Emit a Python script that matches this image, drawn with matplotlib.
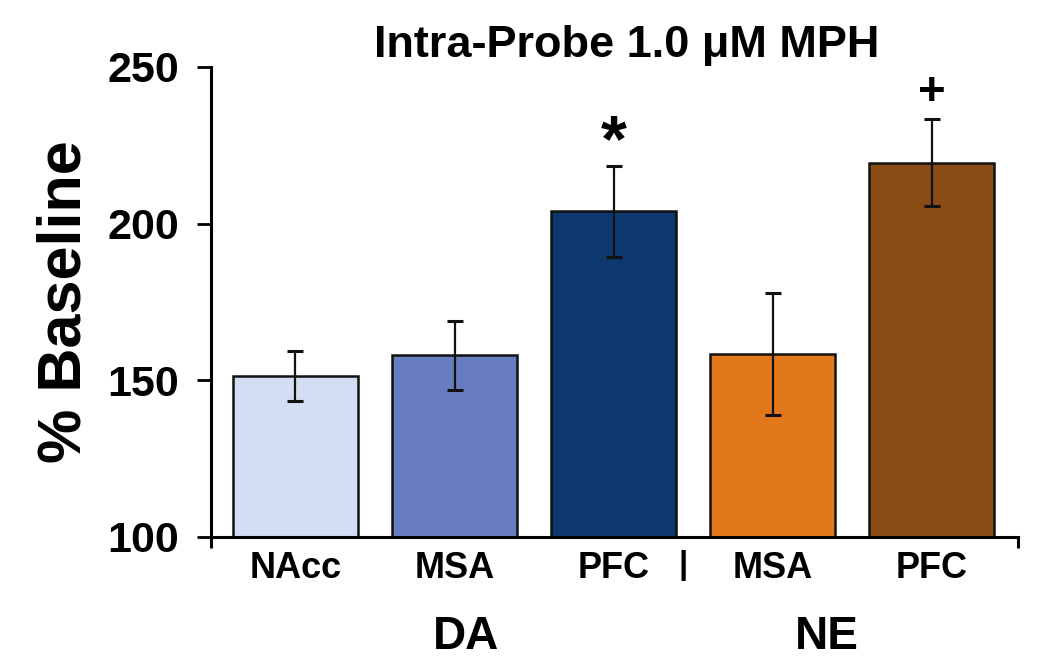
import matplotlib

matplotlib.use("Agg")

import matplotlib.pyplot as plt
import matplotlib.transforms as mtransforms

# data
regions = ["NAcc", "MSA", "PFC", "MSA", "PFC"]
values = [151.5, 158.0, 204.0, 158.5, 219.5]
errors = [8.0, 11.0, 14.5, 19.5, 14.0]
colors = ["#d3ddf3", "#687cc0", "#0c386d", "#e3771b", "#8b4b14"]
marks = ["", "", "*", "", "+"]
groups = ["DA", "NE"]
group_x = [1.07, 3.34]
y_ticks = [100, 150, 200, 250]

plt.rcParams["font.family"] = ["Liberation Sans", "DejaVu Sans"]
plt.rcParams["font.weight"] = "bold"

fig = plt.figure(figsize=(10.5, 6.72), dpi=100)
ax = fig.add_axes([0.201, 0.2009, 0.7686, 0.6994])

x = list(range(len(values)))
ax.bar(x, [v - 100 for v in values], bottom=100, width=0.786, color=colors,
       edgecolor="#111111", linewidth=1.8, zorder=2)
ax.errorbar(x, values, yerr=errors, fmt="none", ecolor="#111111",
            elinewidth=1.6, capsize=5.5, capthick=2.2, zorder=3)

# glyph size / offset above the error cap (the asterisk sits high in the font)
mark_style = {"*": (48, 1.6), "+": (34, 4.4)}
for xi, v, e, m in zip(x, values, errors, marks):
    if m:
        size, off = mark_style[m]
        ax.text(xi, v + e + off, m, ha="center", va="baseline",
                fontsize=size, fontweight="bold", color="black")

ax.set_xlim(-0.531, 4.544)
ax.set_ylim(100, 250)

ax.set_yticks(y_ticks)
ax.tick_params(axis="y", length=10, width=2, pad=13, labelsize=31)
ax.set_xticks(x)
ax.set_xticklabels(regions, fontsize=26, fontweight="bold")
ax.tick_params(axis="x", length=0, pad=10)
ax.set_xticks([-0.531, 4.544], minor=True)
ax.tick_params(axis="x", which="minor", length=8, width=2.2)

for s in ["top", "right"]:
    ax.spines[s].set_visible(False)
for s in ["left", "bottom"]:
    ax.spines[s].set_linewidth(2.2)

ax.set_ylabel("% Baseline", fontsize=44, fontweight="bold", labelpad=10)
fig.text(627 / 1050, 1 - 45 / 672, "Intra-Probe 1.0 μM MPH", ha="center",
         va="center", fontsize=32.5, fontweight="bold")

trans = mtransforms.blended_transform_factory(ax.transData, ax.transAxes)
ax.text(2.44, -0.06, "|", transform=trans, ha="center", va="center",
        fontsize=24, fontweight="bold")
for gx, g in zip(group_x, groups):
    ax.text(gx, -0.213, g, transform=trans, ha="center", va="center",
            fontsize=33, fontweight="bold")

fig.savefig("out.png", dpi=100)
